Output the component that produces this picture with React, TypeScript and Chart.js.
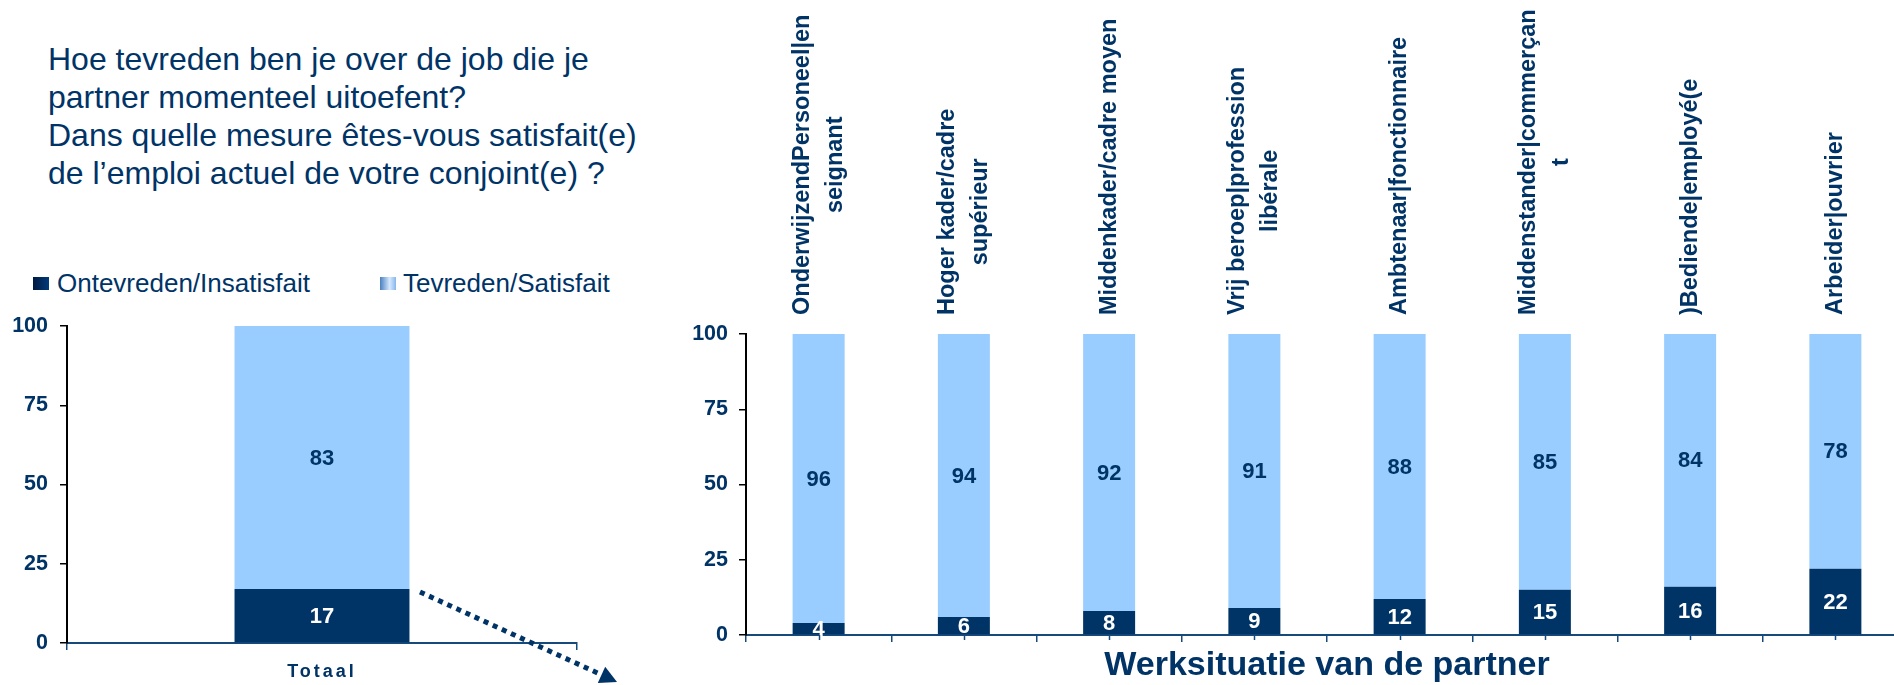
import React, { useEffect, useRef } from "react";
import { Chart, registerables } from "chart.js";

Chart.register(...registerables);

// ---------- data ----------
const titleLines = [
  "Hoe tevreden ben je over de job die je",
  "partner momenteel uitoefent?",
  "Dans quelle mesure êtes-vous satisfait(e)",
  "de l’emploi actuel de votre conjoint(e) ?",
];
const seriesNames = ["Ontevreden/Insatisfait", "Tevreden/Satisfait"];
const totalLabels = ["Totaal"];
const totalOntevreden = [17];
const totalTevreden = [83];
const categories = [
  ["OnderwijzendPersoneel|en", "seignant"],
  ["Hoger kader/cadre", "supérieur"],
  ["Middenkader/cadre moyen"],
  ["Vrij beroep|profession", "libérale"],
  ["Ambtenaar|fonctionnaire"],
  ["Middenstander|commerçan", "t"],
  [")Bediende|employé(e"],
  ["Arbeider|ouvrier"],
];
const ontevreden = [4, 6, 8, 9, 12, 15, 16, 22];
const tevreden = [96, 94, 92, 91, 88, 85, 84, 78];
const xAxisTitle = "Werksituatie van de partner";
const yMin = 0;
const yMax = 100;
const yStep = 25;

// ---------- styles ----------
const NAVY = "#003366";
const DARK = "#003366";
const LIGHT = "#99CCFF";
const AXIS = "#174a7c";
const FONT = "'Liberation Sans', Arial, Helvetica, sans-serif";

const valueLabels = {
  id: "valueLabels",
  afterDatasetsDraw(chart: any) {
    const ctx = chart.ctx;
    ctx.save();
    ctx.font = `bold 22px ${FONT}`;
    ctx.textAlign = "center";
    ctx.textBaseline = "middle";
    chart.data.datasets.forEach((ds: any, di: number) => {
      const meta = chart.getDatasetMeta(di);
      meta.data.forEach((el: any, i: number) => {
        ctx.fillStyle = di === 0 ? "#ffffff" : NAVY;
        ctx.fillText(String(ds.data[i]), el.x, (el.y + el.base) / 2 + 1);
      });
    });
    ctx.restore();
  },
};

const spacedTicks = {
  id: "spacedTicks",
  afterDatasetsDraw(chart: any) {
    (chart.ctx as any).letterSpacing = "3px";
  },
  afterDraw(chart: any) {
    (chart.ctx as any).letterSpacing = "0px";
  },
};

const categoryLabels = {
  id: "categoryLabels",
  afterDraw(chart: any) {
    const ctx = chart.ctx;
    const xs = chart.scales.x;
    const top = chart.chartArea.top - 19;
    const lineH = 33;
    ctx.save();
    ctx.font = `bold 23.5px ${FONT}`;
    ctx.fillStyle = NAVY;
    ctx.textBaseline = "middle";
    ctx.textAlign = "center";
    (chart.data.labels as string[][]).forEach((lines, i) => {
      const cx = xs.getPixelForValue(i);
      const maxW = Math.max(...lines.map((l) => ctx.measureText(l).width));
      lines.forEach((line, j) => {
        const x = cx + (j - (lines.length - 1) / 2) * lineH;
        ctx.save();
        ctx.translate(x, top);
        ctx.rotate(-Math.PI / 2);
        ctx.fillText(line, maxW / 2, 0);
        ctx.restore();
      });
    });
    ctx.restore();
  },
};

const centerTicks = {
  id: "centerTicks",
  afterDraw(chart: any) {
    const ctx = chart.ctx;
    const xs = chart.scales.x;
    const b = chart.chartArea.bottom;
    ctx.save();
    ctx.strokeStyle = AXIS;
    ctx.lineWidth = 1.5;
    (chart.data.labels as any[]).forEach((_, i) => {
      const cx = Math.round(xs.getPixelForValue(i)) + 0.5;
      ctx.beginPath();
      ctx.moveTo(cx, b);
      ctx.lineTo(cx, b + 5);
      ctx.stroke();
    });
    ctx.restore();
  },
};

function yScale(width: number, padding: number) {
  return {
    stacked: true,
    min: yMin,
    max: yMax,
    ticks: {
      stepSize: yStep,
      color: NAVY,
      font: { family: FONT, size: 21.5, weight: "bold" as const },
      padding,
    },
    grid: { drawOnChartArea: false, drawTicks: true, tickLength: 7, color: "#000", lineWidth: 1.5 },
    border: { display: true, color: "#000", width: 2 },
    afterFit: (s: any) => {
      s.width = width;
    },
  };
}

export default function App() {
  const leftRef = useRef<HTMLCanvasElement>(null);
  const rightRef = useRef<HTMLCanvasElement>(null);

  useEffect(() => {
    const left = new Chart(leftRef.current as HTMLCanvasElement, {
      type: "bar",
      data: {
        labels: totalLabels,
        datasets: [
          { label: seriesNames[0], data: totalOntevreden, backgroundColor: DARK, barPercentage: 0.343, categoryPercentage: 1 },
          { label: seriesNames[1], data: totalTevreden, backgroundColor: LIGHT, barPercentage: 0.343, categoryPercentage: 1 },
        ],
      },
      options: {
        responsive: false,
        animation: false,
        layout: { padding: { top: 26, right: 63, left: 0, bottom: 0 } },
        plugins: { legend: { display: false }, tooltip: { enabled: false } },
        scales: {
          x: {
            stacked: true,
            grid: { drawOnChartArea: false, drawTicks: true, tickLength: 7, color: AXIS, lineWidth: 1.5, offset: true },
            border: { display: true, color: AXIS, width: 2 },
            ticks: { color: NAVY, font: { family: FONT, size: 18, weight: "bold" }, padding: 11, z: 1, maxRotation: 0 },
            afterFit: (s: any) => {
              s.height = 42;
            },
          },
          y: yScale(67, 12) as any,
        },
      },
      plugins: [valueLabels, spacedTicks],
    });

    const right = new Chart(rightRef.current as HTMLCanvasElement, {
      type: "bar",
      data: {
        labels: categories,
        datasets: [
          { label: seriesNames[0], data: ontevreden, backgroundColor: DARK, barPercentage: 0.358, categoryPercentage: 1 },
          { label: seriesNames[1], data: tevreden, backgroundColor: LIGHT, barPercentage: 0.358, categoryPercentage: 1 },
        ],
      },
      options: {
        responsive: false,
        animation: false,
        layout: { padding: { top: 334, right: 32, left: 0, bottom: 0 } },
        plugins: { legend: { display: false }, tooltip: { enabled: false } },
        scales: {
          x: {
            stacked: true,
            grid: { drawOnChartArea: false, drawTicks: true, tickLength: 7, color: AXIS, lineWidth: 1.5, offset: true },
            border: { display: true, color: AXIS, width: 2 },
            ticks: { display: false },
            title: {
              display: true,
              text: xAxisTitle,
              color: NAVY,
              font: { family: FONT, size: 34, weight: "bold", lineHeight: 1 },
              padding: { top: 0, bottom: 2 },
            },
            afterFit: (s: any) => {
              s.height = 50;
            },
          },
          y: yScale(106, 11) as any,
        },
      },
      plugins: [valueLabels, categoryLabels, centerTicks],
    });

    return () => {
      left.destroy();
      right.destroy();
    };
  }, []);

  const legendText: React.CSSProperties = {
    position: "absolute",
    top: 268,
    fontSize: 26,
    lineHeight: "30px",
    whiteSpace: "nowrap",
  };

  return (
    <div
      style={{
        position: "fixed",
        left: 0,
        top: 0,
        width: 1894,
        height: 685,
        overflow: "hidden",
        background: "#ffffff",
        fontFamily: FONT,
        color: NAVY,
      }}
    >
      <div style={{ position: "absolute", left: 48, top: 40, fontSize: 32, lineHeight: "38px", whiteSpace: "nowrap" }}>
        {titleLines.map((t, i) => (
          <div key={i}>{t}</div>
        ))}
      </div>

      <div
        style={{
          position: "absolute",
          left: 33,
          top: 277,
          width: 16,
          height: 13,
          background: "linear-gradient(to right, #001a40, #003a7a)",
        }}
      />
      <div style={{ ...legendText, left: 57 }}>{seriesNames[0]}</div>
      <div
        style={{
          position: "absolute",
          left: 380,
          top: 277,
          width: 16,
          height: 13,
          background: "linear-gradient(to right, #4a7fc0, #d6e9ff 60%, #86b6ec)",
        }}
      />
      <div style={{ ...legendText, left: 403 }}>{seriesNames[1]}</div>

      <canvas
        ref={leftRef}
        width={640}
        height={385}
        style={{ position: "absolute", left: 0, top: 300, width: 640, height: 385 }}
      />
      <canvas
        ref={rightRef}
        width={1300}
        height={685}
        style={{ position: "absolute", left: 640, top: 0, width: 1300, height: 685 }}
      />

      <svg
        width={1894}
        height={685}
        style={{ position: "absolute", left: 0, top: 0, pointerEvents: "none" }}
      >
        <line x1={420} y1={592} x2={602} y2={675} stroke={NAVY} strokeWidth={5} strokeDasharray="5 5" />
        <polygon points="617,682 597.8,683.1 605.2,666.7" fill={NAVY} />
      </svg>
    </div>
  );
}
